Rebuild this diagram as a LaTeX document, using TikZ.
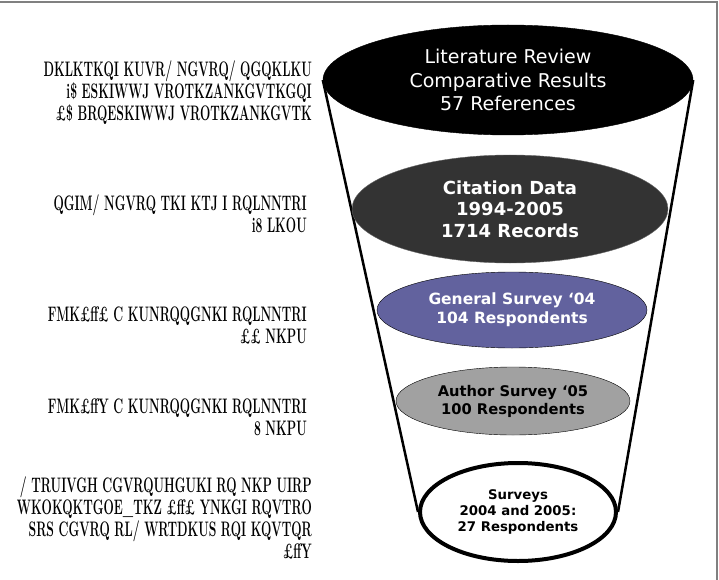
\documentclass[tikz,border=0pt]{standalone}
\usepackage{fontspec}
\usepackage{graphicx}
\newfontfamily\funnelfont{DejaVu Sans}
\usetikzlibrary{positioning,shapes.geometric,backgrounds}

% scrambled side labels, condensed
\newcommand{\sidetext}[1]{\scalebox{0.58}[1]{\fontsize{21}{22}\selectfont\bfseries
  \begin{tabular}{@{}r@{}}#1\end{tabular}}}

\begin{document}
\begin{tikzpicture}[
    x=1pt, y=-1pt,
    layer/.style={ellipse, draw, inner sep=0pt, align=center, font=\funnelfont},
    side/.style={anchor=east, inner sep=0pt}
  ]

  \useasboundingbox (0,0) rectangle (719,580);

  % cornice
  \draw[gray, line width=1.5pt] (0,2) -- (717,2) -- (717,580);

  % livelli dell'imbuto
  \node[layer, fill=black, text=white, minimum width=370pt, minimum height=110pt,
        font=\funnelfont\fontsize{19}{23.5}\selectfont] (lit) at (508,80)
        {Literature Review\\Comparative Results\\57 References};
  \node[layer, fill=black!80, draw=black!60, text=white, minimum width=316pt, minimum height=108pt,
        font=\funnelfont\bfseries\fontsize{18}{21.5}\selectfont] (cit) at (510,209)
        {Citation Data\\1994-2005\\1714 Records};
  \node[layer, fill={rgb,255:red,98;green,98;blue,158}, text=white, minimum width=270pt, minimum height=76pt,
        font=\funnelfont\bfseries\fontsize{15.5}{19}\selectfont] (gen) at (512,310)
        {General Survey ‘04\\104 Respondents};
  \node[layer, fill=black!37, minimum width=234pt, minimum height=68pt,
        font=\funnelfont\bfseries\fontsize{14.7}{18}\selectfont] (aut) at (513,401)
        {Author Survey ‘05\\100 Respondents};
  \node[layer, fill=white, line width=4pt, minimum width=196pt, minimum height=98pt,
        font=\funnelfont\bfseries\fontsize{13.3}{16}\selectfont] (srv) at (518,512)
        {Surveys\\2004 and 2005:\\27 Respondents};

  % pareti dell'imbuto, dietro ai livelli
  \begin{scope}[on background layer]
    \draw[line width=2.5pt] (lit.west) -- (srv.west);
    \draw[line width=2.5pt] (lit.east) -- (srv.east);
  \end{scope}

  % testi laterali
  \node[side] (t1) at (312,94) {\sidetext{DKLKTKQI KUVR/ NGVRQ/ QGQKLKU\\
    i\$ ESKIWWJ VROTKZANKGVTKGQI\\ £\$ BRQESKIWWJ VROTKZANKGVTK}};
  \node[side] (t2) at (307,217) {\sidetext{QGIM/ NGVRQ TKI KTJ I RQLNNTRI\\ i8 LKOU}};
  \node[side] (t3) at (307,328) {\sidetext{FMK£ff£ C KUNRQQGNKI RQLNNTRI\\ ££ NKPU}};
  \node[side] (t4) at (307,420) {\sidetext{FMK£ffY C KUNRQQGNKI RQLNNTRI\\ 8 NKPU}};
  \node[side] (t5) at (312,521) {\sidetext{/ TRUIVGH CGVRQUHGUKI RQ NKP UIRP\\
    WKOKQKTGOE\_TKZ £ff£ YNKGI RQVTRO\\ SRS CGVRQ RL/ WRTDKUS RQI KQVTQR\\ £ffY}};

\end{tikzpicture}
\end{document}
